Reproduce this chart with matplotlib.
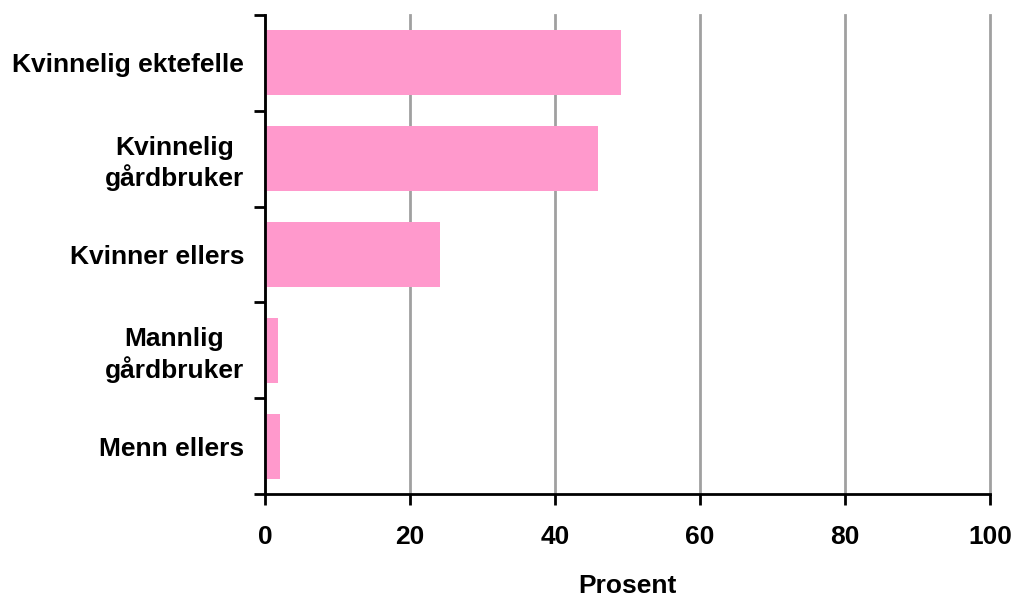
import matplotlib
matplotlib.use("Agg")
import matplotlib.pyplot as plt

categories = ["Kvinnelig ektefelle", "Kvinnelig\ngårdbruker", "Kvinner ellers", "Mannlig\ngårdbruker", "Menn ellers"]
values = [49.1, 45.9, 24.1, 1.8, 2.1]
xticks = [0, 20, 40, 60, 80, 100]

plt.rcParams['font.family'] = ['Liberation Sans', 'DejaVu Sans']
plt.rcParams['font.weight'] = 'bold'

fig = plt.figure(figsize=(10.13, 5.96), dpi=100)
ax = fig.add_axes([0.2616, 0.1711, 0.7157, 0.8037])

pos = list(range(len(categories)))
ax.barh(pos, values, height=0.68, color="#FF99CC", zorder=3)
ax.set_ylim(len(categories) - 0.5, -0.5)
ax.set_xlim(0, 100)

ax.set_yticks([p - 0.5 for p in pos] + [len(categories) - 0.5])
ax.set_yticklabels([])
ax.set_yticks(pos, minor=True)
ax.set_yticklabels(categories, minor=True, fontsize=19, fontweight='bold',
                   ha='right', multialignment='center')
ax.tick_params(axis='y', which='minor', length=0, pad=15)
ax.tick_params(axis='y', which='major', length=8, width=2)

ax.set_xticks(xticks)
ax.set_xticklabels([str(t) for t in xticks], fontsize=19, fontweight='bold')
ax.tick_params(axis='x', length=8, width=2, pad=14)

ax.grid(axis='x', color='#A0A0A0', linewidth=2, zorder=0)
for gl in ax.get_xgridlines():
    gl.set_clip_on(False)
for s in ['top', 'right']:
    ax.spines[s].set_visible(False)
ax.spines['left'].set_linewidth(2)
ax.spines['bottom'].set_linewidth(2)
ax.spines['left'].set_zorder(4)

ax.set_xlabel("Prosent", fontsize=19, fontweight='bold', labelpad=18)

fig.savefig("out.png", dpi=100)
